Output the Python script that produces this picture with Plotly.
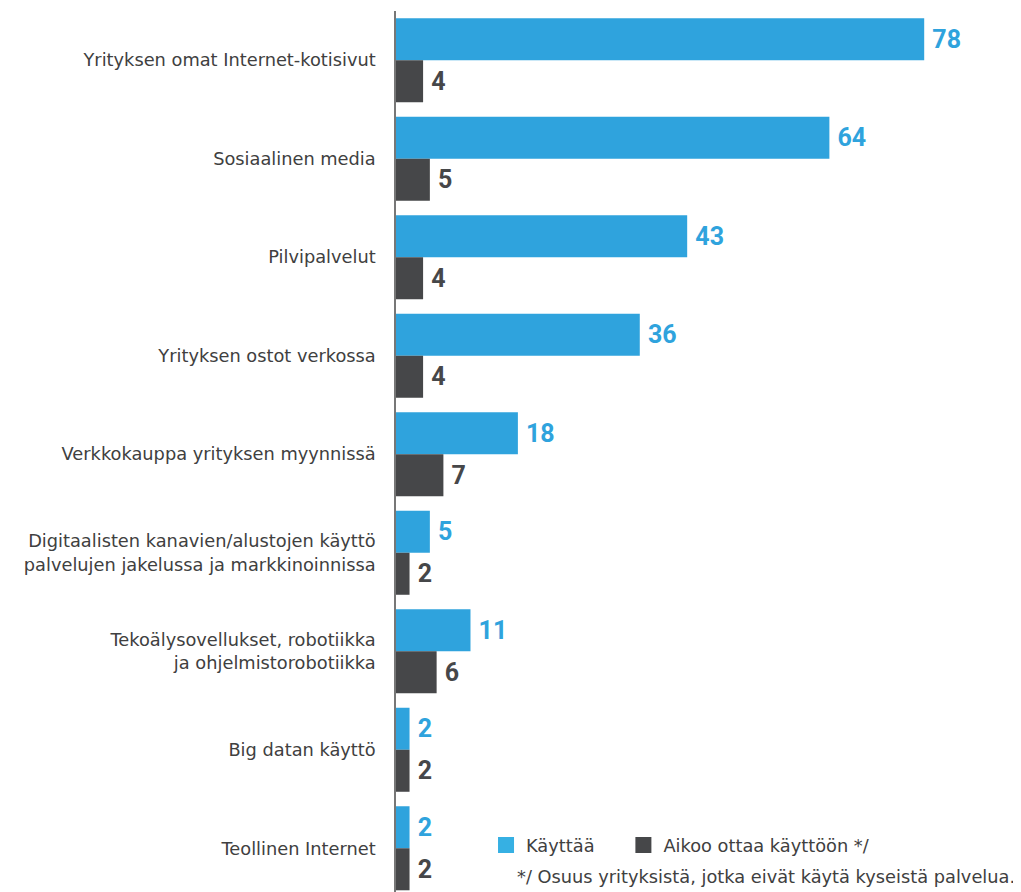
import plotly.graph_objects as go

categories = [
    "Yrityksen omat Internet-kotisivut",
    "Sosiaalinen media",
    "Pilvipalvelut",
    "Yrityksen ostot verkossa",
    "Verkkokauppa yrityksen myynnissä",
    "Digitaalisten kanavien/alustojen käyttö<br>palvelujen jakelussa ja markkinoinnissa",
    "Tekoälysovellukset, robotiikka<br>ja ohjelmistorobotiikka",
    "Big datan käyttö",
    "Teollinen Internet",
]
kayttaa = [78, 64, 43, 36, 18, 5, 11, 2, 2]
aikoo = [4, 5, 4, 4, 7, 2, 6, 2, 2]
series_names = ["Käyttää", "Aikoo ottaa käyttöön */"]
footnote = "*/ Osuus yrityksistä, jotka eivät käytä kyseistä palvelua."

BLUE = "#2fa3dd"
LEGBLUE = "#36b0e3"
DARK = "#464749"
NUMFONT = "Roboto"
TXTFONT = "DejaVu Sans"
TXTCOLOR = "#404040"
TXTSIZE = 17.8

fig = go.Figure()
fig.add_trace(go.Bar(
    y=categories, x=kayttaa, orientation="h", name=series_names[0],
    marker=dict(color=BLUE, line=dict(width=0)),
    text=[f"\u2009{v}" for v in kayttaa], textposition="outside",
    textfont=dict(family=NUMFONT, size=25, color=BLUE, weight="bold"),
    cliponaxis=False, hoverinfo="skip", showlegend=False,
))
fig.add_trace(go.Bar(
    y=categories, x=aikoo, orientation="h", name=series_names[1],
    marker=dict(color=DARK, line=dict(width=0)),
    text=[f"\u2009{v}" for v in aikoo], textposition="outside",
    textfont=dict(family=NUMFONT, size=25, color=DARK, weight="bold"),
    cliponaxis=False, hoverinfo="skip", showlegend=False,
))
# legend entries with larger square swatches
for name, col, leg in [(series_names[0], LEGBLUE, "legend"), (series_names[1], DARK, "legend2")]:
    fig.add_trace(go.Scatter(
        x=[None], y=[None], mode="markers", name=name,
        marker=dict(symbol="square", size=16, color=col, line=dict(width=0)),
        showlegend=True, legend=leg, hoverinfo="skip",
    ))

legend_common = dict(
    orientation="h", y=0.053, xanchor="left", yanchor="middle",
    font=dict(family=TXTFONT, size=TXTSIZE, color=TXTCOLOR),
    bgcolor="rgba(0,0,0,0)",
)
fig.update_layout(
    width=1013, height=884,
    margin=dict(l=388, r=2, t=3, b=0, autoexpand=False),
    paper_bgcolor="white", plot_bgcolor="white",
    barmode="group", bargap=0.147, bargroupgap=0.0,
    font=dict(family=TXTFONT, size=TXTSIZE, color=TXTCOLOR),
    showlegend=True,
    legend=dict(x=0.1445, **legend_common),
    legend2=dict(x=0.365, **legend_common),
)
fig.update_xaxes(range=[0, 92], visible=False, showgrid=False, zeroline=False)
fig.update_yaxes(
    type="category", range=[8.444, -0.5], showgrid=False, zeroline=False,
    showline=True, linecolor="#777777", linewidth=1.5,
    ticks="", ticklabelstandoff=15,
    tickfont=dict(family=TXTFONT, size=TXTSIZE, color=TXTCOLOR),
)
fig.add_annotation(
    text=footnote, xref="paper", yref="paper", x=1.0, y=0.0,
    xanchor="right", yanchor="bottom", xshift=-2, yshift=3, showarrow=False,
    font=dict(family=TXTFONT, size=TXTSIZE, color=TXTCOLOR),
)
fig.write_html("out.html")
